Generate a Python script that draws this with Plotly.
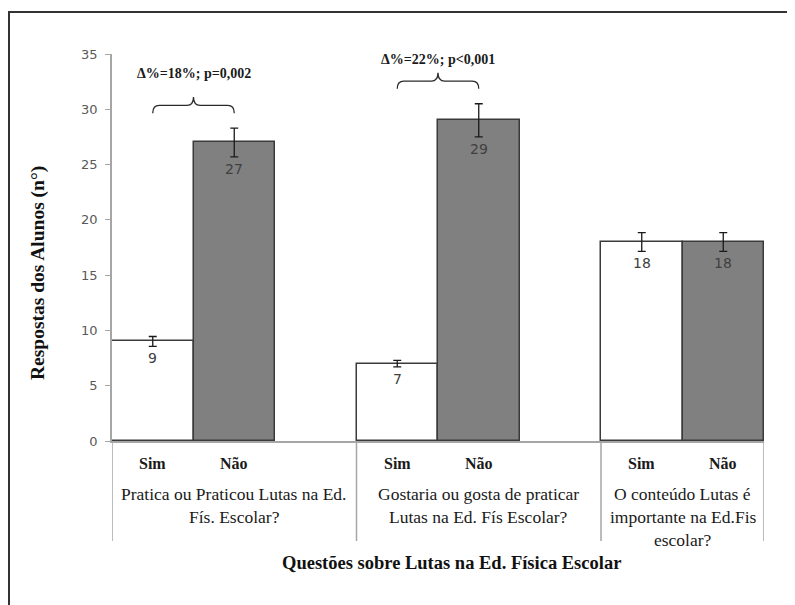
import plotly.graph_objects as go

# ---------------- data ----------------
QUESTIONS = [
    "Pratica ou Praticou Lutas na Ed.<br>Fís. Escolar?",
    "Gostaria ou gosta de praticar<br>Lutas na Ed. Fís Escolar?",
    "O conteúdo Lutas é<br>importante na Ed.Fis<br>escolar?",
]
ANSWERS = ["Sim", "Não"]
SIM_VALUES = [9, 7, 18]
NAO_VALUES = [27, 29, 18]
SIM_ERR = [0.45, 0.3, 0.85]
NAO_ERR = [1.3, 1.5, 0.85]
COMPARISONS = [(0, "Δ%=18%; p=0,002"), (1, "Δ%=22%; p<0,001")]
Y_TICKS = [0, 5, 10, 15, 20, 25, 30, 35]
Y_TITLE = "Respostas dos Alunos (n°)"
X_TITLE = "Questões sobre Lutas na Ed. Física Escolar"

# ---------------- style / layout ----------------
OFF = 8                       # page body margin of the html page
W, H = 795 - OFF, 605 - OFF
ML, MR, MT, MB = 112 - OFF, 31, 54 - OFF, 164
PLOT_H = H - MT - MB
SLOT = 3                      # two bars + one empty slot per question
BRACE_TEXT_SHIFT = [24, 13]   # px above brace tip
SERIF = "Liberation Serif, Times New Roman, serif"
SANS = "DejaVu Sans, Verdana, sans-serif"
AXIS_GREY = "#A6A6A6"


def py(px):
    """screen pixel row -> paper y"""
    return (H - MB - (px - OFF)) / PLOT_H


def px_x(px):
    """screen pixel column -> paper x"""
    return (px - OFF - ML) / (W - ML - MR)


sim_x = [SLOT * g for g in range(len(QUESTIONS))]
nao_x = [SLOT * g + 1 for g in range(len(QUESTIONS))]
x_max = SLOT * (len(QUESTIONS) - 1) + 1.5

fig = go.Figure()
fig.add_trace(go.Bar(
    x=sim_x, y=SIM_VALUES, width=1, name="Sim",
    marker=dict(color="white", line=dict(color="#3a3a3a", width=1.5)),
    error_y=dict(type="data", array=SIM_ERR, color="#1a1a1a", thickness=1.3, width=4),
    showlegend=False,
))
fig.add_trace(go.Bar(
    x=nao_x, y=NAO_VALUES, width=1, name="Não",
    marker=dict(color="#808080", line=dict(color="#3a3a3a", width=1.5)),
    error_y=dict(type="data", array=NAO_ERR, color="#1a1a1a", thickness=1.3, width=4),
    showlegend=False,
))

annotations = []
shapes = []

# value labels just under the error bars
for xs, vals, errs in ((sim_x, SIM_VALUES, SIM_ERR), (nao_x, NAO_VALUES, NAO_ERR)):
    for x, v, e in zip(xs, vals, errs):
        annotations.append(dict(
            x=x, y=v - e, xref="x", yref="y", text=str(v), showarrow=False,
            yshift=-12, yanchor="middle",
            font=dict(family=SANS, size=14, color="#404040"),
        ))

# answer labels (Sim / Não) and question labels
for g, q in enumerate(QUESTIONS):
    for k, a in enumerate(ANSWERS):
        annotations.append(dict(
            x=SLOT * g + k, y=py(463), xref="x", yref="paper", text=a,
            showarrow=False, yanchor="middle",
            font=dict(family=SERIF, size=16, color="#1a1a1a", weight="bold"),
        ))
    left = SLOT * g - 0.5
    right = min(SLOT * g + SLOT - 0.5, x_max)
    for li, line in enumerate(q.split("<br>")):
        annotations.append(dict(
            x=(left + right) / 2, y=py(494 + 23 * li), xref="x", yref="paper",
            text=line, showarrow=False, yanchor="middle",
            font=dict(family=SERIF, size=17.5, color="#1a1a1a"),
        ))

# category separator lines
bounds = [SLOT * g - 0.5 for g in range(len(QUESTIONS))] + [x_max]
for b in bounds:
    shapes.append(dict(type="line", xref="x", yref="paper", x0=b, x1=b,
                       y0=0, y1=py(541), line=dict(color=AXIS_GREY, width=1.5)))

# significance braces
for (g, txt), tshift in zip(COMPARISONS, BRACE_TEXT_SHIFT):
    x0, x1 = SLOT * g, SLOT * g + 1
    top = max(SIM_VALUES[g] + SIM_ERR[g], NAO_VALUES[g] + NAO_ERR[g])
    yb = top + 1.35
    ym = yb + 0.7
    yt = yb + 1.45
    xc = (x0 + x1) / 2
    d = 0.08
    path = (f"M {x0},{yb} Q {x0},{ym} {x0 + d},{ym} L {xc - d},{ym} "
            f"Q {xc},{ym} {xc},{yt} Q {xc},{ym} {xc + d},{ym} "
            f"L {x1 - d},{ym} Q {x1},{ym} {x1},{yb}")
    shapes.append(dict(type="path", xref="x", yref="y", path=path,
                       line=dict(color="#2a2a2a", width=1.3)))
    annotations.append(dict(
        x=xc, y=yt, xref="x", yref="y", text=txt, showarrow=False,
        yshift=tshift, yanchor="middle",
        font=dict(family=SERIF, size=14, color="#1a1a1a", weight="bold"),
    ))

# axis titles
annotations.append(dict(
    x=px_x(38), y=py(273), xref="paper", yref="paper", text=Y_TITLE,
    showarrow=False, textangle=-90, xanchor="center", yanchor="middle",
    font=dict(family=SERIF, size=19.5, color="#111111", weight="bold"),
))
annotations.append(dict(
    x=px_x(451), y=py(563), xref="paper", yref="paper", text=X_TITLE,
    showarrow=False, xanchor="center", yanchor="middle",
    font=dict(family=SERIF, size=18.5, color="#111111", weight="bold"),
))

# outer frame (partly cropped, like the reference)
shapes.append(dict(type="rect", xref="paper", yref="paper",
                   x0=px_x(9), x1=px_x(830), y0=py(640), y1=py(12),
                   line=dict(color="#333333", width=2), layer="below"))

fig.update_layout(
    width=W, height=H, autosize=False,
    margin=dict(l=ML, r=MR, t=MT, b=MB),
    paper_bgcolor="white", plot_bgcolor="white",
    barmode="overlay", bargap=0,
    xaxis=dict(range=[-0.5, x_max], showticklabels=False, ticks="",
               showgrid=False, zeroline=False, showline=True,
               linecolor=AXIS_GREY, linewidth=1.5, fixedrange=True),
    yaxis=dict(range=[0, 35], tickvals=Y_TICKS, ticks="outside", ticklen=5,
               tickcolor=AXIS_GREY, showgrid=False, zeroline=False,
               showline=True, linecolor=AXIS_GREY, linewidth=1.5,
               ticklabelstandoff=5,
               tickfont=dict(family=SANS, size=13, color="#595959"),
               fixedrange=True),
    annotations=annotations, shapes=shapes,
)

fig.write_html("out.html")
